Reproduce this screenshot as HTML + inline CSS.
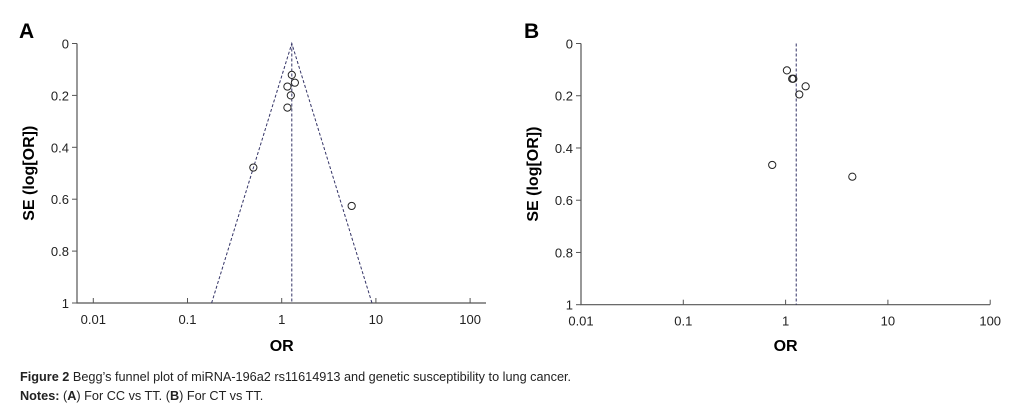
<!DOCTYPE html>
<html><head><meta charset="utf-8"><style>
html,body{margin:0;padding:0;background:#fff;}
body{width:1009px;height:412px;overflow:hidden;position:relative;font-family:"Liberation Sans",sans-serif;}
.cap{position:absolute;left:20px;font-size:12.7px;color:#222;white-space:nowrap;}
</style></head><body>
<svg id="chart" width="1009" height="360" style="position:absolute;left:0;top:0" font-family="Liberation Sans, sans-serif"></svg>
<div class="cap" style="top:370px"><b>Figure 2</b> Begg’s funnel plot of miRNA-196a2 rs11614913 and genetic susceptibility to lung cancer.</div>
<div class="cap" style="top:389px"><b>Notes:</b> (<b>A</b>) For CC vs TT. (<b>B</b>) For CT vs TT.</div>
<script>
const xTicks = [0.01, 0.1, 1, 10, 100];
const xTickLabels = ["0.01", "0.1", "1", "10", "100"];
const yTicks = [0, 0.2, 0.4, 0.6, 0.8, 1];
const yTickLabels = ["0", "0.2", "0.4", "0.6", "0.8", "1"];
const pooledA = 1.28;
const orA = [1.28, 1.38, 1.15, 1.25, 1.15, 0.50, 5.53];
const seA = [0.121, 0.151, 0.166, 0.20, 0.247, 0.478, 0.626];
const pooledB = 1.27;
const orB = [1.03, 1.16, 1.19, 1.57, 1.36, 0.74, 4.49];
const seB = [0.103, 0.135, 0.135, 0.164, 0.195, 0.465, 0.51];

const NS = "http://www.w3.org/2000/svg";
const svg = document.getElementById("chart");
function mk(tag, attrs, parent, text) {
  const e = document.createElementNS(NS, tag);
  for (const k in attrs) e.setAttribute(k, attrs[k]);
  if (text !== undefined) e.textContent = text;
  (parent || svg).appendChild(e);
  return e;
}
function panel(p) {
  const g = mk("g", {});
  
  
  const xs = v => p.x0 + (Math.log10(v) + 2) * p.dec;
  const ys = v => p.yTop + v * (p.yBot - p.yTop);
  const lab = mk("text", {x: p.labX, y: 38, "font-size": 21, "font-weight": "bold", fill: "#000"}, g, p.id);
  
  
  const ax = mk("path", {d: `M${p.axX},${p.yTop}V${p.yBot}H${p.xEnd}`, stroke: "#555", fill: "none", "stroke-width": 1.2}, g);
  
  
  yTicks.forEach((t, i) => {
    const y = ys(t);
    mk("line", {x1: p.axX - 5, x2: p.axX, y1: y, y2: y, stroke: "#555"}, g);
    const tl = mk("text", {x: p.axX - 8, y: y + 5, "text-anchor": "end", "font-size": 13, fill: "#222"}, g, yTickLabels[i]);
    
    
  });
  xTicks.forEach((t, i) => {
    const x = xs(t);
    mk("line", {x1: x, x2: x, y1: p.yBot, y2: p.yBot - 5, stroke: "#555"}, g);
    const tl = mk("text", {x: x, y: p.yBot + 21, "text-anchor": "middle", "font-size": 13, fill: "#222"}, g, xTickLabels[i]);
    
    
  });
  const xt = mk("text", {x: xs(1), y: 351, "text-anchor": "middle", "font-size": 16, "font-weight": "bold", fill: "#000"}, g, "OR");
  
  
  const yc = (p.yTop + p.yBot) / 2;
  const yt = mk("text", {x: p.axX - 43, y: yc, "text-anchor": "middle", "font-size": 16, "font-weight": "bold", fill: "#000", transform: `rotate(-90 ${p.axX - 43} ${yc})`}, g, "SE (log[OR])");
  
  
  const cx = xs(p.pooled);
  const pl = mk("line", {x1: cx, x2: cx, y1: p.yTop, y2: p.yBot, stroke: "#336", "stroke-dasharray": "3,2", "stroke-width": 1}, g);
  
  
  if (p.funnel) {
    const lc = Math.log10(p.pooled), w = 1.96 / Math.LN10;
    const fl = mk("path", {d: `M${xs(Math.pow(10, lc - w))},${ys(1)}L${cx},${ys(0)}L${xs(Math.pow(10, lc + w))},${ys(1)}`, stroke: "#336", fill: "none", "stroke-dasharray": "3,2"}, g);
    
    
  }
  p.or.forEach((v, i) => {
    const c = mk("circle", {cx: xs(v), cy: ys(p.se[i]), r: 3.6, fill: "none", stroke: "#222", "stroke-width": 1}, g);
    
    
  });
}
panel({id: "A", labX: 19, axX: 77, x0: 93.3, dec: 94.2, xEnd: 486, yTop: 43.5, yBot: 303, pooled: pooledA, or: orA, se: seA, funnel: true});
panel({id: "B", labX: 524, axX: 581, x0: 581, dec: 102.3, xEnd: 990, yTop: 43.5, yBot: 304.7, pooled: pooledB, or: orB, se: seB, funnel: false});
</script>
</body></html>
